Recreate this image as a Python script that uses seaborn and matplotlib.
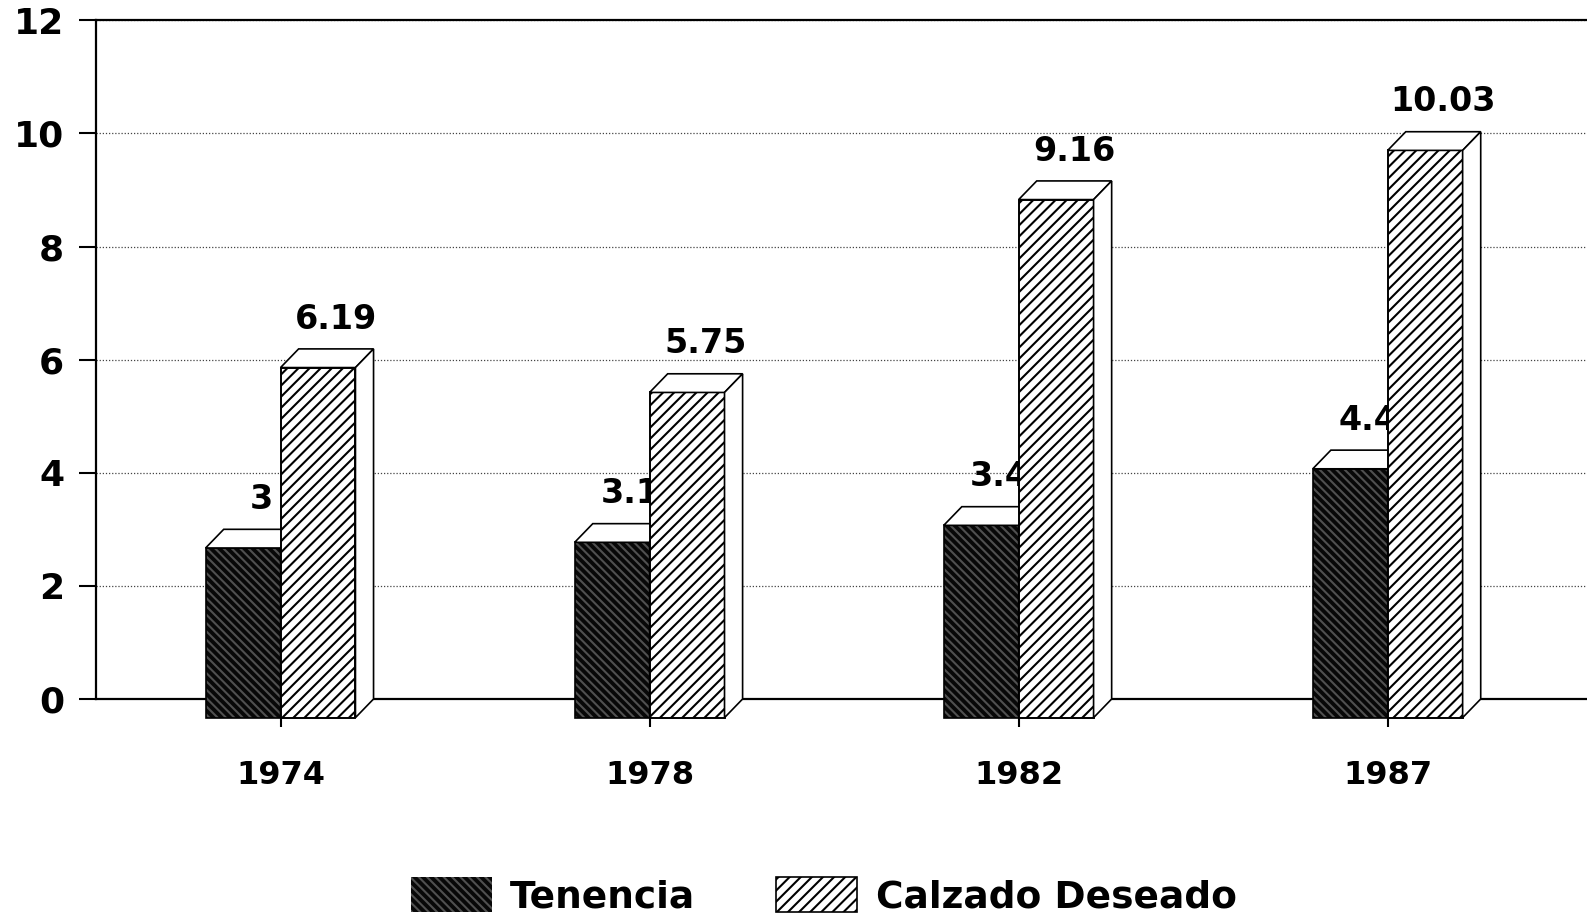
import matplotlib
matplotlib.use("Agg")
import matplotlib.pyplot as plt
import matplotlib.patches as mpatches
import pandas as pd
import seaborn as sns

# ---- data ----
years = ["1974", "1978", "1982", "1987"]
series = ["Tenencia", "Calzado Deseado"]
tenencia = [3.0, 3.1, 3.4, 4.4]
calzado = [6.19, 5.75, 9.16, 10.03]
tenencia_labels = ["3", "3.1", "3.4", "4.4"]
calzado_labels = ["6.19", "5.75", "9.16", "10.03"]
y_ticks = [0, 2, 4, 6, 8, 10, 12]

df = pd.DataFrame({
    "Año": years + years,
    "Serie": [series[0]] * len(years) + [series[1]] * len(years),
    "Valor": tenencia + calzado,
})
labels_by_series = [tenencia_labels, calzado_labels]

sns.set_theme(style="white")
plt.rcParams["font.family"] = ["DejaVu Sans"]
plt.rcParams["font.weight"] = "bold"
plt.rcParams["hatch.linewidth"] = 1.5
for k in ["text.color", "axes.labelcolor", "xtick.color", "ytick.color"]:
    plt.rcParams[k] = "black"

fig = plt.figure(figsize=(15.87, 9.23), dpi=100)
ax = fig.add_axes([0.0605, 0.2427, 0.9395, 0.7353])

sns.barplot(data=df, x="Año", y="Valor", hue="Serie", order=years,
            hue_order=series, width=0.406, palette=["#151515", "white"],
            saturation=1, errorbar=None, legend=False, ax=ax)

D = 0.33    # depth offset in y (data units)
DX = 0.049  # depth offset in x (data units)
EDGE = 1.2
DARK_FACE = "#080808"
DARK_HATCH = "#505050"

for si, container in enumerate(ax.containers):
    zbase = 3 + si * 2
    for j, p in enumerate(container):
        x0, w, h = p.get_x(), p.get_width(), p.get_height()
        p.set_y(-D)
        p.set_clip_on(False)
        p.set_zorder(zbase)
        if si == 0:
            p.set_facecolor(DARK_FACE)
            p.set_edgecolor(DARK_HATCH)
            p.set_hatch("\\\\\\\\")
            p.set_linewidth(0)
        else:
            p.set_facecolor("white")
            p.set_edgecolor("black")
            p.set_hatch("///")
            p.set_linewidth(EDGE)
        ax.add_patch(mpatches.Rectangle((x0, -D), w, h, fill=False,
                                        ec="black", lw=EDGE, zorder=zbase,
                                        clip_on=False))
        top = mpatches.Polygon([(x0, h - D), (x0 + w, h - D),
                                (x0 + w + DX, h), (x0 + DX, h)],
                               closed=True, fc="white", ec="black", lw=EDGE,
                               zorder=zbase, clip_on=False)
        side = mpatches.Polygon([(x0 + w, -D), (x0 + w + DX, 0),
                                 (x0 + w + DX, h), (x0 + w, h - D)],
                                closed=True, fc="white", ec="black", lw=EDGE,
                                zorder=zbase, clip_on=False)
        ax.add_patch(top)
        ax.add_patch(side)
        ax.text(x0 + w / 2 + DX, h + 0.36, labels_by_series[si][j],
                ha="center", va="baseline", fontsize=24, fontweight="bold",
                color="black", zorder=zbase + 1)

ax.set_xlim(-0.5, 3.54)
ax.set_ylim(0, 12)
ax.set_yticks(y_ticks)
ax.set_xlabel("")
ax.set_ylabel("")
ax.set_axisbelow(True)
ax.yaxis.grid(True, linestyle=(0, (1, 1.5)), color="#444444", lw=0.9)
ax.xaxis.grid(False)

for s in ["left", "top", "bottom"]:
    ax.spines[s].set_visible(True)
    ax.spines[s].set_color("black")
    ax.spines[s].set_linewidth(1.6)
ax.spines["right"].set_visible(False)

ax.tick_params(axis="y", direction="out", length=12, width=1.5, pad=11,
               labelsize=26, left=True, colors="black")
ax.tick_params(axis="x", direction="out", length=20, width=1.5, pad=24,
               labelsize=23, bottom=True, colors="black")
for lbl in ax.get_xticklabels() + ax.get_yticklabels():
    lbl.set_fontweight("bold")

handles = [
    mpatches.Patch(facecolor=DARK_FACE, edgecolor=DARK_HATCH,
                   hatch="\\\\\\\\", linewidth=0),
    mpatches.Patch(facecolor="white", edgecolor="black", hatch="///",
                   linewidth=EDGE),
]
fig.legend(handles, series, loc="center", bbox_to_anchor=(0.519, 0.029),
           ncol=2, frameon=False, fontsize=27, handlelength=2.16,
           handleheight=1.07, handletextpad=0.49, columnspacing=2.16,
           labelcolor="black")

fig.savefig("out.png", dpi=100, facecolor="white")
